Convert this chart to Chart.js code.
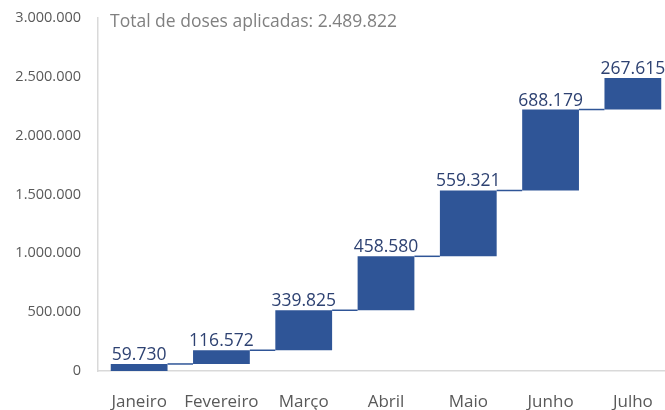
<!DOCTYPE html>
<html>
<head>
<meta charset="utf-8">
<script src="https://cdn.jsdelivr.net/npm/chart.js@4/dist/chart.umd.min.js"></script>
<style>
  html, body { margin: 0; padding: 0; background: #fff; overflow: hidden; }
  #wrap { width: 674px; height: 410px; }
</style>
</head>
<body>
<div id="wrap"><canvas id="chart"></canvas></div>
<script>
const months = ['Janeiro', 'Fevereiro', 'Março', 'Abril', 'Maio', 'Junho', 'Julho'];
const doses = [59730, 116572, 339825, 458580, 559321, 688179, 267615];
const yTicks = [0, 500000, 1000000, 1500000, 2000000, 2500000, 3000000];
const titleText = 'Total de doses aplicadas: 2.489.822';

const fmt = (v) => v.toLocaleString('pt-BR');

// floating bars: each month starts where the previous one ended
let running = 0;
const ranges = doses.map((d) => {
  const r = [running, running + d];
  running += d;
  return r;
});

const barColor = '#2F5597';

const waterfallExtras = {
  id: 'waterfallExtras',
  afterDatasetsDraw(chart) {
    const { ctx, scales } = chart;
    const bars = chart.getDatasetMeta(0).data;
    ctx.save();
    // connector lines
    ctx.strokeStyle = barColor;
    ctx.lineWidth = 1.5;
    for (let i = 0; i < bars.length - 1; i++) {
      const y = scales.y.getPixelForValue(ranges[i][1]);
      const x1 = bars[i].x + bars[i].width / 2;
      const x2 = bars[i + 1].x - bars[i + 1].width / 2;
      ctx.beginPath();
      ctx.moveTo(x1, y);
      ctx.lineTo(x2, y);
      ctx.stroke();
    }
    // value labels
    ctx.fillStyle = '#2E4272';
    ctx.font = '17.5px "Open Sans"';
    ctx.textAlign = 'center';
    ctx.textBaseline = 'alphabetic';
    bars.forEach((bar, i) => {
      const top = scales.y.getPixelForValue(ranges[i][1]);
      ctx.fillText(fmt(doses[i]), bar.x, top - 4);
    });
    // title inside plot area
    ctx.fillStyle = '#808080';
    ctx.font = '17.5px "Open Sans"';
    ctx.textAlign = 'left';
    ctx.textBaseline = 'alphabetic';
    ctx.fillText(titleText, chart.chartArea.left + 12, 27);
    ctx.restore();
  },
};

new Chart(document.getElementById('chart'), {
  type: 'bar',
  data: {
    labels: months,
    datasets: [{
      label: 'Doses',
      data: ranges,
      backgroundColor: barColor,
      borderWidth: 0,
      barPercentage: 0.69,
      categoryPercentage: 1,
    }],
  },
  options: {
    responsive: true,
    maintainAspectRatio: false,
    animation: false,
    layout: { padding: { top: 18, right: 0, left: 0, bottom: 0 } },
    plugins: {
      legend: { display: false },
      tooltip: { enabled: false },
    },
    scales: {
      x: {
        grid: { display: false, drawTicks: false },
        border: { display: true, color: '#D9D9D9', width: 1.5 },
        ticks: {
          color: '#595959',
          font: { family: 'Open Sans', size: 17 },
          padding: 21,
          maxRotation: 0,
        },
        afterFit: (s) => { s.height = 39; },
      },
      y: {
        min: 0,
        max: 3000000,
        grid: { display: false, drawTicks: false },
        border: { display: true, color: '#D9D9D9', width: 1.5 },
        afterBuildTicks: (s) => { s.ticks = yTicks.map((v) => ({ value: v })); },
        ticks: {
          color: '#595959',
          font: { family: 'Open Sans', size: 14.5 },
          padding: 17,
          callback: (v) => fmt(v),
        },
        afterFit: (s) => {
          s.width = 98;
          s.paddingTop = 0;
          s.paddingBottom = 0;
        },
      },
    },
  },
  plugins: [waterfallExtras],
});
</script>
</body>
</html>
